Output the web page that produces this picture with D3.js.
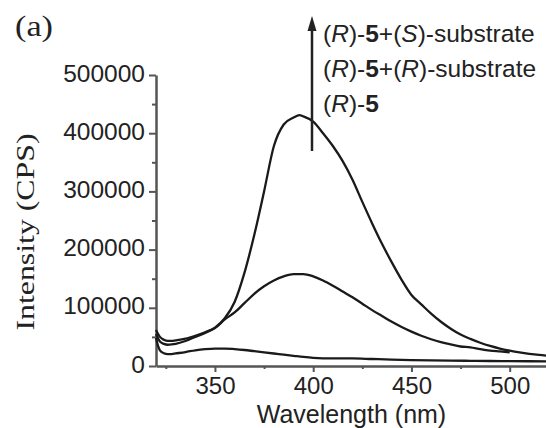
<!DOCTYPE html>
<html>
<head>
<meta charset="utf-8">
<script src="https://cdn.jsdelivr.net/npm/d3@7"></script>
<style>
  html, body { margin: 0; padding: 0; background: #fff; }
  svg { display: block; }
</style>
</head>
<body>
<svg id="chart" width="546" height="428"></svg>
<script>
// Emission spectra of (R)-5 alone and with each substrate enantiomer
const wlS = [320, 322, 324, 326, 328, 330, 335, 340, 345, 350, 355, 360, 365, 370, 375, 380, 385, 390, 393, 395, 400, 405, 410, 415, 420, 425, 430, 435, 440, 445, 450, 455, 460, 465, 470, 475, 480, 485, 490, 495, 500, 505, 510, 515, 520];
const intS = [62000, 50000, 45000, 43000, 43000, 44000, 47000, 52000, 58000, 66000, 82000, 110000, 160000, 225000, 300000, 378000, 415000, 427000, 431000, 429000, 420000, 400000, 378000, 352000, 320000, 282000, 245000, 210000, 178000, 148000, 122000, 106000, 90000, 76000, 64000, 54000, 46500, 40000, 34500, 30000, 26500, 23500, 21000, 19000, 17500];

const wlR = [320, 322, 324, 326, 328, 330, 335, 340, 345, 350, 355, 360, 365, 370, 375, 380, 385, 390, 395, 400, 405, 410, 415, 420, 425, 430, 435, 440, 445, 450, 455, 460, 465, 470, 475, 480, 485, 490, 495, 500];
const intR = [55000, 42000, 38000, 36500, 37000, 38000, 43000, 50000, 57000, 65000, 80000, 92000, 108000, 124000, 137000, 147000, 154000, 158000, 158000, 154000, 147000, 138000, 128000, 118000, 107000, 96000, 86000, 76000, 67000, 59000, 52000, 46000, 41000, 37000, 33500, 32000, 29000, 26500, 25000, 23500];

const wl5 = [320, 321, 322, 324, 326, 328, 330, 335, 340, 345, 350, 355, 360, 365, 370, 375, 380, 385, 390, 395, 400, 410, 420, 430, 440, 450, 460, 470, 480, 490, 500, 510, 520];
const int5 = [48000, 35000, 27000, 22000, 20500, 20500, 21500, 24000, 27000, 29000, 30000, 30000, 29000, 27500, 25500, 23500, 21500, 19500, 17500, 15500, 14000, 13000, 13000, 12000, 11000, 10200, 9600, 9200, 8900, 8600, 8400, 8200, 8000];

const xMajor = [350, 400, 450, 500];
const xMinor = [325, 375, 425, 475, 525];
const yMajor = [0, 100000, 200000, 300000, 400000, 500000];
const yMinor = [50000, 150000, 250000, 350000, 450000];

const svg = d3.select("#chart");
const sans = "'Liberation Sans', Arial, sans-serif";
const serif = "'Liberation Serif', 'Times New Roman', serif";

const x = d3.scaleLinear().domain([320, 520]).range([156, 549]);
const y = d3.scaleLinear().domain([0, 500000]).range([366, 75]);

const axisColor = "#555";

// x axis: major ticks with labels, then short unlabeled minor ticks
const gx = svg.append("g").attr("transform", `translate(0,${y(0)})`)
  .call(d3.axisBottom(x).tickValues(xMajor).tickSize(6).tickSizeOuter(0).tickPadding(5).tickFormat(d3.format("d")));
svg.append("g").attr("transform", `translate(0,${y(0)})`)
  .call(d3.axisBottom(x).tickValues(xMinor).tickSize(3).tickFormat(""))
  .call(g => g.select(".domain").remove());

// y axis
const gy = svg.append("g").attr("transform", `translate(${x(320)},0)`)
  .call(d3.axisLeft(y).tickValues(yMajor).tickSize(7).tickSizeOuter(0).tickPadding(4).tickFormat(d3.format("d")));
svg.append("g").attr("transform", `translate(${x(320)},0)`)
  .call(d3.axisLeft(y).tickValues(yMinor).tickSize(4).tickFormat(""))
  .call(g => g.select(".domain").remove());

svg.selectAll(".domain").attr("stroke", axisColor).attr("stroke-width", 2.5);
svg.selectAll(".tick line").attr("stroke", axisColor).attr("stroke-width", 2);
gx.selectAll(".tick text").attr("font-family", sans).attr("font-size", 24).attr("fill", "#222");
gy.selectAll(".tick text").attr("font-family", sans).attr("font-size", 24.5).attr("fill", "#222").attr("dy", "0.25em");

// spectra
const line = d3.line().x(d => x(d[0])).y(d => y(d[1])).curve(d3.curveMonotoneX);
const series = [
  d3.zip(wl5, int5),
  d3.zip(wlR, intR),
  d3.zip(wlS, intS)
];
svg.append("g").selectAll("path").data(series).join("path")
  .attr("d", line)
  .attr("fill", "none")
  .attr("stroke", "#1a1a1a")
  .attr("stroke-width", 2.3)
  .attr("stroke-linejoin", "round");

// arrow showing the rising order of the three spectra
const ax = 312;
svg.append("line").attr("x1", ax).attr("x2", ax).attr("y1", 151).attr("y2", 26)
  .attr("stroke", "#222").attr("stroke-width", 2.5);
svg.append("path")
  .attr("d", `M${ax},16 L${ax - 4.5},31 L${ax + 4.5},31 Z`)
  .attr("fill", "#222");

// legend labels
const legend = [
  [["(", ""], ["R", "italic"], [")-", ""], ["5", "bold"], ["+(", ""], ["S", "italic"], [")-substrate", ""]],
  [["(", ""], ["R", "italic"], [")-", ""], ["5", "bold"], ["+(", ""], ["R", "italic"], [")-substrate", ""]],
  [["(", ""], ["R", "italic"], [")-", ""], ["5", "bold"]]
];
const lg = svg.append("g").attr("font-family", sans).attr("font-size", 24.5).attr("fill", "#222");
legend.forEach((parts, i) => {
  const t = lg.append("text").attr("x", 323).attr("y", 41.5 + i * 35);
  parts.forEach(([s, st]) => {
    const ts = t.append("tspan").text(s);
    if (st === "italic") ts.attr("font-style", "italic");
    if (st === "bold") ts.attr("font-weight", "bold");
  });
});

// axis titles
svg.append("text").attr("x", 351.5).attr("y", 423).attr("text-anchor", "middle")
  .attr("font-family", sans).attr("font-size", 25).attr("fill", "#222")
  .text("Wavelength (nm)");
svg.append("text").attr("transform", "translate(34,232) rotate(-90)").attr("text-anchor", "middle")
  .attr("font-family", serif).attr("font-size", 26).attr("fill", "#222")
  .attr("textLength", 197).attr("lengthAdjust", "spacingAndGlyphs")
  .text("Intensity (CPS)");

// panel tag
svg.append("text").attr("x", 15).attr("y", 36)
  .attr("font-family", serif).attr("font-size", 30).attr("fill", "#222")
  .attr("textLength", 38).attr("lengthAdjust", "spacingAndGlyphs")
  .text("(a)");
</script>
</body>
</html>
